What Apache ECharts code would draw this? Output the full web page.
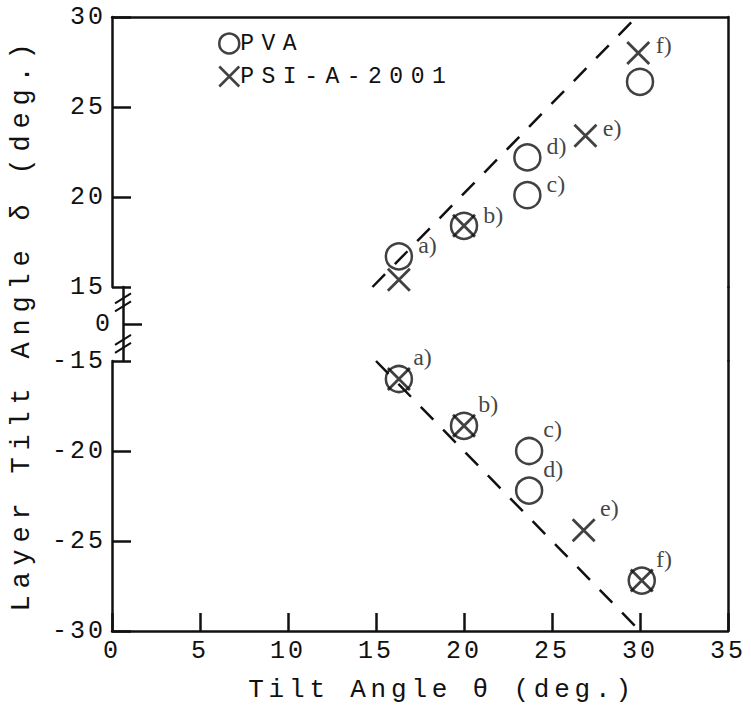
<!DOCTYPE html>
<html>
<head>
<meta charset="utf-8">
<script src="https://cdn.jsdelivr.net/npm/echarts@6.0.0/dist/echarts.min.js"></script>
<style>
  html, body { margin: 0; padding: 0; background: #fff; }
  #chart { width: 751px; height: 707px; }
  /* typewriter-like spacing per text group (svg renderer) */
  #chart text[style*="25px"] { letter-spacing: 3px; }
  #chart text[style*="26px"] { letter-spacing: 4.8px; }
  #chart text[style*="27px"] { letter-spacing: 6.8px; }
  #chart text[style*="23px"] { letter-spacing: 7.5px; }
</style>
</head>
<body>
<div id="chart"></div>
<script>
// ---- data ----
const xTicks = [0, 35, 5];               // min, max, step of tilt angle
const upperRange = [15, 30];             // upper part of the broken delta axis
const lowerRange = [-30, -15];           // lower part
const middleTicks = [0];                 // lone tick inside the break
const breakMarks = [1.2, -1.1];          // where the // marks sit (delta units, middle band)

// PVA (circles) and PSI-A-2001 (crosses): [theta, delta, tag]
const pvaUpper = [[16.3, 16.7, 'a)'], [20.0, 18.4, 'b)'], [23.6, 20.1, 'c)'], [23.6, 22.2, 'd)'], [30.0, 26.4, '']];
const psiUpper = [[16.3, 15.4, ''], [20.0, 18.4, ''], [26.9, 23.4, 'e)'], [29.9, 28.0, 'f)']];
const pvaLower = [[16.3, -16.0, 'a)'], [20.0, -18.6, 'b)'], [23.7, -20.0, 'c)'], [23.7, -22.2, 'd)'], [30.1, -27.2, 'f)']];
const psiLower = [[16.3, -16.0, ''], [20.0, -18.6, ''], [26.8, -24.4, 'e)'], [30.1, -27.2, '']];

// dashed guide lines
const guideUpper = [[14.8, 15], [29.8, 30]];
const guideLower = [[15, -15], [30, -30]];

// ---- styling ----
const INK = '#111';
const MONO = 'Liberation Mono';
const SERIF = 'Liberation Serif';
const CROSS = 'path://M0,0L20,20M20,0L0,20';

const lineStyle = { color: INK, width: 2.5 };
const toPts = arr => arr.map(d => ({ value: [d[0], d[1]], tag: d[2] }));

function tagLabel(offset) {
  return {
    show: true,
    position: 'right',
    distance: 0,
    offset: offset,
    formatter: p => p.data.tag,
    fontFamily: SERIF,
    fontSize: 24,
    color: INK
  };
}

function hiddenX(grid, extra) {
  return Object.assign({
    type: 'value', gridIndex: grid, min: xTicks[0], max: xTicks[1], interval: xTicks[2],
    axisLabel: { show: false }, axisTick: { show: false }, splitLine: { show: false },
    axisLine: { show: false }
  }, extra || {});
}

function frameY(grid, range) {
  return {
    type: 'value', gridIndex: grid, position: 'right', min: range[0], max: range[1],
    axisLine: { show: true, onZero: false, lineStyle },
    axisTick: { show: false }, axisLabel: { show: false }, splitLine: { show: false }
  };
}

const chart = echarts.init(document.getElementById('chart'), null, { renderer: 'svg' });

chart.setOption({
  animation: false,
  backgroundColor: '#fff',
  grid: [
    { left: 112, right: 23, top: 17, height: 270 },
    { left: 112, right: 23, top: 287, height: 74 },
    { left: 112, right: 23, top: 361, height: 270 }
  ],
  legend: {
    left: 213, top: 27, orient: 'vertical',
    itemWidth: 20, itemHeight: 20, itemGap: 10,
    textStyle: { fontFamily: MONO, fontSize: 23, color: INK, padding: [0, 0, 0, -4] },
    data: [
      { name: 'PVA', icon: 'circle', itemStyle: { color: 'transparent', borderColor: INK, borderWidth: 2.5 } },
      { name: 'PSI-A-2001', icon: CROSS, itemStyle: { color: 'transparent', borderColor: INK, borderWidth: 2.5 } }
    ]
  },
  xAxis: [
    // upper grid: only the top frame line
    hiddenX(0, { position: 'top', axisLine: { show: true, onZero: false, lineStyle } }),
    hiddenX(1),
    {
      type: 'value', gridIndex: 2, position: 'bottom',
      min: xTicks[0], max: xTicks[1], interval: xTicks[2],
      axisLine: { show: true, onZero: false, lineStyle },
      axisTick: { show: true, inside: true, length: 18, lineStyle },
      axisLabel: { fontFamily: MONO, fontSize: 25, color: INK, margin: 8 },
      splitLine: { show: false },
      name: 'Tilt Angle θ (deg.)',
      nameLocation: 'middle', nameGap: 46,
      nameTextStyle: { fontFamily: MONO, fontSize: 26, color: INK, padding: [0, 0, 0, 44] }
    }
  ],
  yAxis: [
    {
      type: 'value', gridIndex: 0, min: upperRange[0], max: upperRange[1], interval: 5,
      axisLine: { show: true, onZero: false, lineStyle },
      axisTick: { show: true, inside: true, length: 19, lineStyle },
      axisLabel: { fontFamily: MONO, fontSize: 25, color: INK, margin: 6 },
      splitLine: { show: false }
    },
    frameY(0, upperRange),
    {
      type: 'value', gridIndex: 1, min: -2.05, max: 2.05,
      axisLine: { show: true, onZero: false, lineStyle },
      axisTick: { show: true, inside: true, length: 19, lineStyle, customValues: middleTicks },
      axisLabel: { fontFamily: MONO, fontSize: 25, color: INK, margin: 10, customValues: middleTicks },
      splitLine: { show: false },
      name: 'Layer Tilt Angle δ (deg.)',
      nameLocation: 'middle', nameGap: 88, nameRotate: 90,
      nameTextStyle: { fontFamily: MONO, fontSize: 27, color: INK }
    },
    frameY(1, [-2.05, 2.05]),
    {
      type: 'value', gridIndex: 2, min: lowerRange[0], max: lowerRange[1], interval: 5,
      axisLine: { show: true, onZero: false, lineStyle },
      axisTick: { show: true, inside: true, length: 19, lineStyle },
      axisLabel: { fontFamily: MONO, fontSize: 25, color: INK, margin: 6 },
      splitLine: { show: false }
    },
    frameY(2, lowerRange)
  ],
  series: [
    {
      name: 'PVA', type: 'scatter', xAxisIndex: 0, yAxisIndex: 0,
      symbol: 'circle', symbolSize: 26,
      itemStyle: { color: 'transparent', borderColor: INK, borderWidth: 2.5 },
      label: tagLabel([5, -11]),
      data: toPts(pvaUpper)
    },
    {
      name: 'PSI-A-2001', type: 'scatter', xAxisIndex: 0, yAxisIndex: 0,
      symbol: CROSS, symbolSize: 22,
      itemStyle: { color: 'transparent', borderColor: INK, borderWidth: 2.8 },
      label: tagLabel([5, -8]),
      data: toPts(psiUpper)
    },
    {
      name: 'PVA', type: 'scatter', xAxisIndex: 2, yAxisIndex: 4,
      symbol: 'circle', symbolSize: 26,
      itemStyle: { color: 'transparent', borderColor: INK, borderWidth: 2.5 },
      label: tagLabel([0, -22]),
      data: toPts(pvaLower)
    },
    {
      name: 'PSI-A-2001', type: 'scatter', xAxisIndex: 2, yAxisIndex: 4,
      symbol: CROSS, symbolSize: 22,
      itemStyle: { color: 'transparent', borderColor: INK, borderWidth: 2.8 },
      label: tagLabel([4, -22]),
      data: toPts(psiLower)
    },
    {
      type: 'line', xAxisIndex: 0, yAxisIndex: 0, showSymbol: false, silent: true,
      lineStyle: { color: INK, width: 2.5, type: [18, 14] },
      data: guideUpper
    },
    {
      type: 'line', xAxisIndex: 2, yAxisIndex: 4, showSymbol: false, silent: true,
      lineStyle: { color: INK, width: 2.5, type: [18, 14] },
      data: guideLower
    },
    {
      // axis break marks "//" on the left axis
      type: 'custom', xAxisIndex: 1, yAxisIndex: 2, silent: true, clip: false,
      data: breakMarks.map(y => [0, y]),
      renderItem: (params, api) => {
        const p = api.coord([api.value(0), api.value(1)]);
        const seg = dy => ({
          type: 'line',
          shape: { x1: p[0] - 8, y1: p[1] + 5 + dy, x2: p[0] + 8, y2: p[1] - 5 + dy },
          style: { stroke: INK, lineWidth: 2 }
        });
        return { type: 'group', children: [seg(-4), seg(4)] };
      }
    }
  ]
});
</script>
</body>
</html>
